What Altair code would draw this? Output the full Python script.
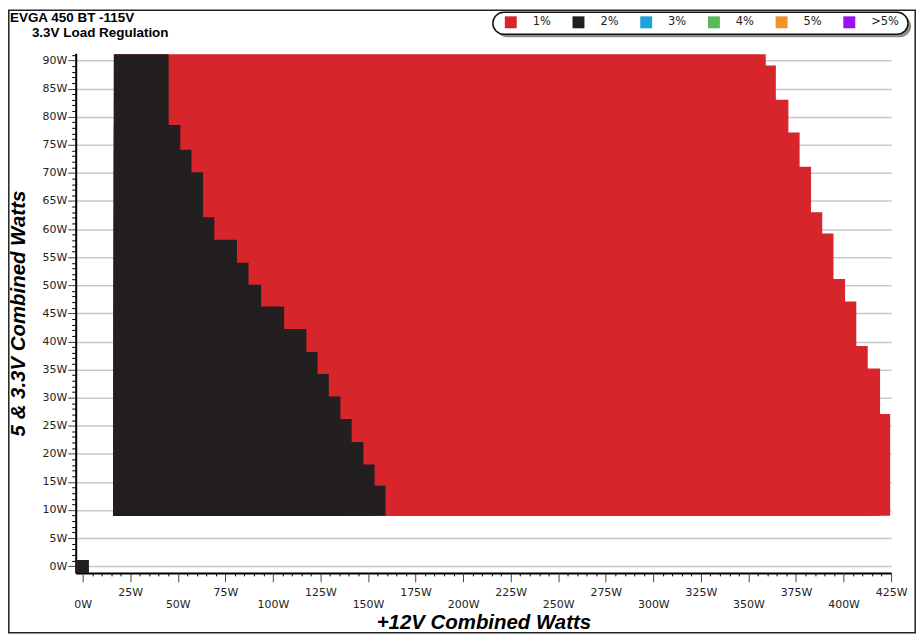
import altair as alt
import pandas as pd

# ---------------- text ----------------
title_line1 = "EVGA 450 BT -115V"
title_line2 = "3.3V Load Regulation"
x_title = "+12V Combined Watts"
y_title = "5 & 3.3V Combined Watts"

# ---------------- legend categories ----------------
levels = ["1%", "2%", "3%", "4%", "5%", ">5%"]
level_colors = ["#d6252b", "#231f20", "#1ba4d8", "#5cb85c", "#f0932a", "#9b12f2"]

# ---------------- measured regions (W) ----------------
region_left = 16.4      # +12V watts where the tested area starts
region_bottom = 9.0     # 5V & 3.3V watts where the tested area starts

# 1% region: top edge of each step and its right edge
red_tops = [27.1, 35.2, 39.2, 47.1, 51.1, 59.2, 63.0, 71.1, 77.2, 83.0, 89.1, 91.1]
red_right = [424.5, 419.2, 412.7, 406.7, 400.8, 394.7, 388.8, 382.9, 376.9, 371.0, 364.4, 359.1]

# 2% region: top edge of each step and its right edge
black_tops = [14.3, 18.1, 22.1, 26.2, 30.2, 34.2, 38.1, 42.2, 46.2, 50.1,
              54.0, 58.1, 62.1, 70.1, 74.1, 78.5, 91.1]
black_right = [159.2, 153.5, 147.6, 141.4, 135.5, 129.4, 123.5, 117.6, 105.9, 93.8,
               87.2, 81.1, 69.2, 63.3, 57.2, 51.3, 45.2]

# single point at 0W / 0W (2%)
origin_x = [-3.7, 3.3]
origin_y = [-1.2, 1.1]

# ---------------- axes ----------------
x_domain = [-3.66, 425]
y_domain = [-1.19, 91.3]
x_upper_labels = list(range(25, 426, 50))
x_lower_labels = list(range(0, 401, 50))
x_minor = [v for v in range(5, 425, 5) if v % 25]
y_major = list(range(0, 91, 5))
y_minor = [v for v in range(1, 92) if v % 5]

# ---------------- build table ----------------
rows = []
for top, right in zip(red_tops, red_right):
    rows.append(dict(x0=region_left, x1=right, y0=region_bottom, y1=top, level="1%"))
for top, right in zip(black_tops, black_right):
    rows.append(dict(x0=region_left, x1=right, y0=region_bottom, y1=top, level="2%"))
rows.append(dict(x0=origin_x[0], x1=origin_x[1], y0=origin_y[0], y1=origin_y[1], level="2%"))
cells_df = pd.DataFrame(rows)

W, H = 819, 522
PAD = {"left": 68, "top": 44, "right": 25, "bottom": 61}

xs = alt.Scale(domain=x_domain, nice=False, zero=False)
ys = alt.Scale(domain=y_domain, nice=False, zero=False)
LABEL_FONT = "DejaVu Sans"
TITLE_FONT = "Liberation Sans"

cells = alt.Chart(cells_df).mark_rect(clip=True, strokeWidth=0).encode(
    x=alt.X("x0:Q", scale=xs, axis=alt.Axis(
        orient="bottom", values=x_upper_labels, labelExpr="datum.value + 'W'",
        tickSize=9, tickColor="#444", tickWidth=1, labelPadding=11,
        labelBaseline="middle", labelFont=LABEL_FONT, labelFontSize=11, labelColor="#222",
        labelFlush=False, labelOverlap=False,
        domainColor="#000", domainWidth=2, grid=False,
        title=x_title, titleFont=TITLE_FONT, titleFontSize=20.5, titleFontStyle="italic",
        titleFontWeight="bold", titleColor="#000", titleY=56, titleBaseline="alphabetic")),
    x2="x1:Q",
    y=alt.Y("y0:Q", scale=ys, axis=alt.Axis(
        orient="left", values=y_major, labelExpr="datum.value + 'W'",
        tickSize=8, tickColor="#444", tickWidth=1, labelPadding=1,
        labelFont=LABEL_FONT, labelFontSize=11, labelColor="#222",
        labelFlush=False, labelOverlap=False,
        domainColor="#000", domainWidth=2,
        grid=True, gridColor="#c8c8c8", gridWidth=1.5,
        title=y_title, titleFont=TITLE_FONT, titleFontSize=20.5, titleFontStyle="italic",
        titleFontWeight="bold", titleColor="#000", titleX=-51, titleBaseline="alphabetic")),
    y2="y1:Q",
    color=alt.Color("level:N", scale=alt.Scale(domain=levels, range=level_colors),
                    legend=alt.Legend(
                        orient="none", legendX=431, legendY=-37, direction="horizontal",
                        columns=6, title=None, symbolType="square", symbolSize=144,
                        symbolStrokeWidth=0, symbolOpacity=1, labelFont=LABEL_FONT,
                        labelFontSize=11.5, labelColor="#222", labelOffset=16,
                        columnPadding=12, gridAlign="all", zindex=1, padding=0)),
)

ghost_df = pd.DataFrame({"gx": [0.0], "gy": [0.0]})

ghost_a = alt.Chart(ghost_df).mark_point(opacity=0).encode(
    x=alt.X("gx:Q", scale=xs, axis=alt.Axis(
        orient="bottom", values=x_lower_labels, labelExpr="datum.value + 'W'",
        tickSize=9, tickColor="#444", tickWidth=1, labelPadding=23,
        labelBaseline="middle", labelFont=LABEL_FONT, labelFontSize=11, labelColor="#222",
        labelFlush=False, labelOverlap=False, domain=False, grid=False, title=None)),
    y=alt.Y("gy:Q", scale=ys, axis=alt.Axis(
        orient="left", values=y_minor, tickSize=4, tickColor="#000", tickWidth=1,
        labels=False, domain=False, grid=False, title=None)),
)

ghost_b = alt.Chart(ghost_df).mark_point(opacity=0).encode(
    x=alt.X("gx:Q", scale=xs, axis=alt.Axis(
        orient="bottom", values=x_minor, tickSize=3, tickColor="#000", tickWidth=1,
        labels=False, domain=False, grid=False, title=None)),
    y=alt.Y("gy:Q", scale=ys, axis=None),
)

one = pd.DataFrame({"k": [0]})

frame = alt.Chart(one).mark_rect(filled=False, stroke="#222", strokeWidth=1.5).encode(
    x=alt.value(-67.2), x2=alt.value(843.2), y=alt.value(-43.2), y2=alt.value(582.2))

legend_shadow = alt.Chart(one).mark_rect(fill="#8c8c8c", cornerRadius=11).encode(
    x=alt.value(422), x2=alt.value(839), y=alt.value(-38), y2=alt.value(-16))
legend_box = alt.Chart(one).mark_rect(fill="white", stroke="#111", strokeWidth=1.5,
                                      cornerRadius=11).encode(
    x=alt.value(419), x2=alt.value(836), y=alt.value(-41), y2=alt.value(-19))

t1 = alt.Chart(pd.DataFrame({"t": [title_line1]})).mark_text(
    align="left", baseline="alphabetic", font=TITLE_FONT, fontWeight="bold",
    fontSize=13.5, color="#000").encode(x=alt.value(-66), y=alt.value(-31.5), text="t:N")
t2 = alt.Chart(pd.DataFrame({"t": [title_line2]})).mark_text(
    align="left", baseline="alphabetic", font=TITLE_FONT, fontWeight="bold",
    fontSize=13.5, color="#000").encode(x=alt.value(-44), y=alt.value(-16.5), text="t:N")

chart = alt.layer(
    cells, ghost_a, ghost_b, frame, legend_shadow, legend_box, t1, t2
).resolve_axis(x="independent", y="independent").properties(
    width=W, height=H,
    autosize=alt.AutoSizeParams(type="none"),
    padding=PAD,
    background="white",
).configure_view(stroke=None)

chart.save("out.html", embed_options={"renderer": "svg", "actions": False})
